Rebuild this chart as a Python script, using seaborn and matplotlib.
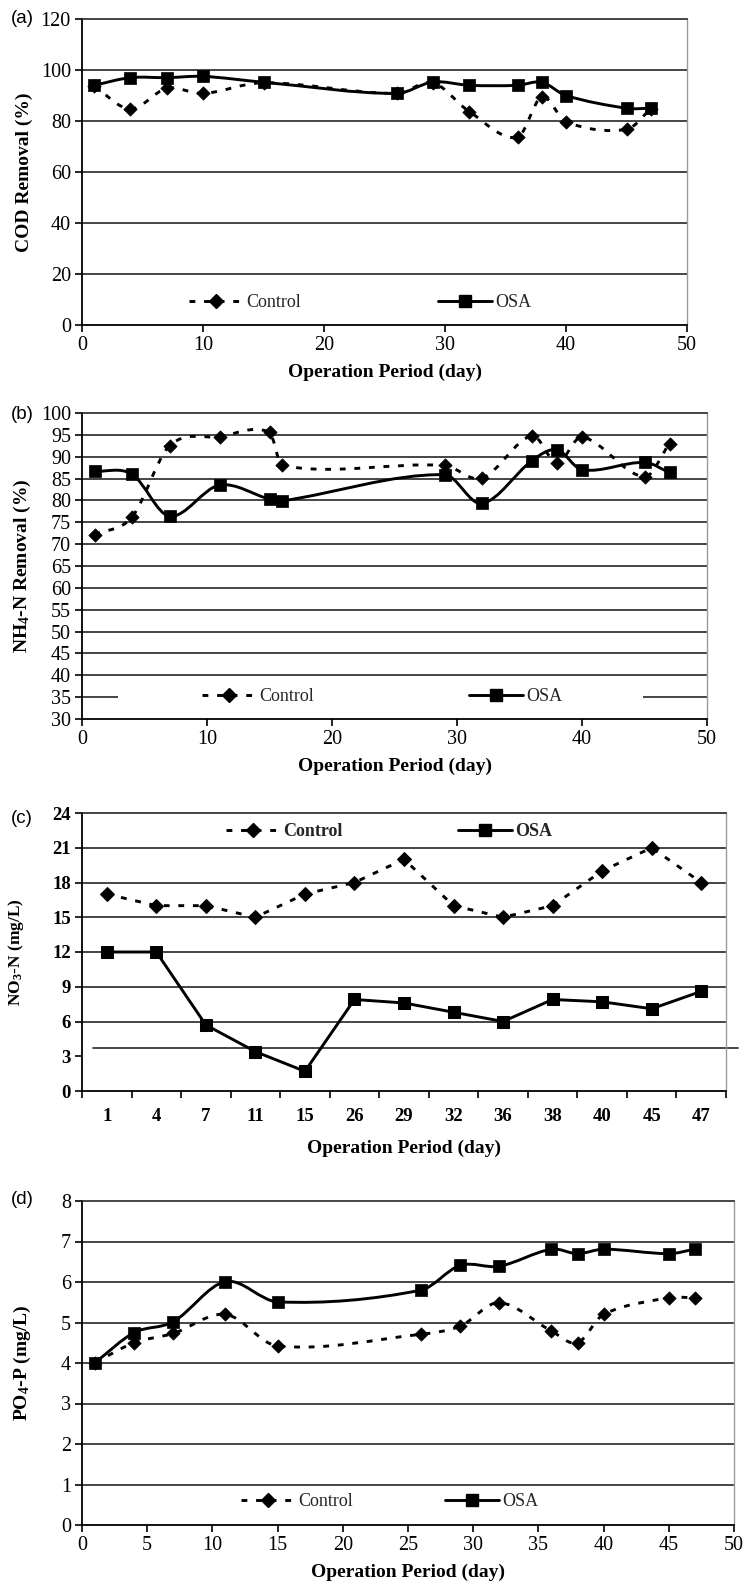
import numpy as np
import matplotlib
matplotlib.use("Agg")
import matplotlib.pyplot as plt
import seaborn as sns
from matplotlib.path import Path
from matplotlib.patches import PathPatch, Rectangle
from matplotlib.lines import Line2D
import matplotlib.transforms as mtransforms

# ---------------- data ----------------
# (a) COD removal (%)
days_a = [1, 4, 7, 10, 15, 26, 29, 32, 36, 38, 40, 45, 47]
cod_control = [93.7, 84.7, 92.8, 90.8, 95.0, 90.8, 95.0, 83.7, 73.6, 89.5, 79.7, 76.7, 84.7]
cod_osa = [94.0, 97.0, 97.0, 97.5, 95.2, 90.8, 95.3, 94.0, 94.0, 95.2, 90.0, 85.0, 85.0]

# (b) NH4-N removal (%)
days_b = [1, 4, 7, 11, 15, 16, 29, 32, 36, 38, 40, 45, 47]
nh4_control = [72.2, 76.2, 92.5, 94.6, 95.6, 88.0, 88.0, 85.1, 94.8, 88.6, 94.5, 85.4, 93.0]
nh4_osa = [86.7, 86.0, 76.4, 83.5, 80.3, 79.9, 85.9, 79.3, 89.1, 91.6, 87.0, 88.7, 86.4]

# (c) NO3-N (mg/L), categorical days
days_c = ["1", "4", "7", "11", "15", "26", "29", "32", "36", "38", "40", "45", "47"]
no3_control = [17, 16, 16, 15, 17, 18, 20, 16, 15, 16, 19, 21, 18]
no3_osa = [12.0, 12.0, 5.7, 3.4, 1.7, 7.9, 7.6, 6.8, 6.0, 7.9, 7.7, 7.1, 8.6]

# (d) PO4-P (mg/L)
days_d = [1, 4, 7, 11, 15, 26, 29, 32, 36, 38, 40, 45, 47]
po4_control = [4.01, 4.50, 4.73, 5.20, 4.42, 4.71, 4.91, 5.49, 4.79, 4.50, 5.20, 5.61, 5.61]
po4_osa = [4.01, 4.75, 5.02, 6.01, 5.51, 5.80, 6.41, 6.39, 6.81, 6.70, 6.81, 6.70, 6.81]

series_names = ["Control", "OSA"]

# ---------------- style ----------------
sns.set_theme(style="white")
plt.rcParams["font.family"] = ["Liberation Serif", "DejaVu Serif"]
plt.rcParams["mathtext.default"] = "regular"

W, H = 747, 1585
fig = plt.figure(figsize=(W / 100, H / 100), dpi=100)
fig.patch.set_facecolor("white")

GRID_C = "#262626"
DASH = (0, (2.0, 3.0))
LW = 2.1
D_MS = 6.8
S_MS = 8.2


def make_axes(l, r, t, b):
    return fig.add_axes([l / W, 1 - b / H, (r - l) / W, (b - t) / H])


def style_axes(ax, yticks, bold=False):
    ax.set_facecolor("white")
    for v in yticks[1:-1]:
        ax.axhline(v, color=GRID_C, lw=1.2, zorder=1)
    ax.spines["left"].set_color("black")
    ax.spines["bottom"].set_color("black")
    ax.spines["left"].set_linewidth(1.3)
    ax.spines["bottom"].set_linewidth(1.3)
    ax.spines["top"].set_color(GRID_C)
    ax.spines["top"].set_linewidth(1.2)
    ax.spines["right"].set_color("#9a9a9a")
    ax.spines["right"].set_linewidth(1.0)
    ax.set_yticks(yticks)
    ax.set_ylim(yticks[0], yticks[-1])
    ax.tick_params(axis="both", which="both", direction="out", length=5,
                   width=1.2, color="black", labelsize=14.5, pad=3,
                   left=True, bottom=True, labelcolor="black")
    if bold:
        for lab in ax.get_yticklabels():
            lab.set_fontweight("bold")


def smooth_path(xs, ys):
    xs = np.asarray(xs, float)
    ys = np.asarray(ys, float)
    n = len(xs)
    m = np.empty(n)
    m[0] = (ys[1] - ys[0]) / (xs[1] - xs[0])
    m[-1] = (ys[-1] - ys[-2]) / (xs[-1] - xs[-2])
    m[1:-1] = (ys[2:] - ys[:-2]) / (xs[2:] - xs[:-2])
    verts = [(xs[0], ys[0])]
    codes = [Path.MOVETO]
    for i in range(n - 1):
        h = xs[i + 1] - xs[i]
        verts += [(xs[i] + h / 3, ys[i] + m[i] * h / 3),
                  (xs[i + 1] - h / 3, ys[i + 1] - m[i + 1] * h / 3),
                  (xs[i + 1], ys[i + 1])]
        codes += [Path.CURVE4] * 3
    return Path(verts, codes)


def draw_smooth(ax, xs, control, osa):
    ax.add_patch(PathPatch(smooth_path(xs, control), fill=False, color="black",
                           lw=LW, linestyle=DASH, capstyle="butt", zorder=3))
    ax.add_patch(PathPatch(smooth_path(xs, osa), fill=False, color="black",
                           lw=LW, linestyle="-", zorder=3))
    sns.scatterplot(x=xs, y=control, marker="D", s=D_MS ** 2, color="black",
                    edgecolor="black", linewidth=0.5, ax=ax, zorder=4, legend=False)
    sns.scatterplot(x=xs, y=osa, marker="s", s=S_MS ** 2, color="black",
                    edgecolor="black", linewidth=0.5, ax=ax, zorder=5, legend=False)


def add_legend(ax, fx, fy, colsp, bold=False):
    h1 = Line2D([], [], color="black", lw=LW, ls=DASH, marker="D", ms=D_MS)
    h2 = Line2D([], [], color="black", lw=LW, ls="-", marker="s", ms=S_MS)
    leg = ax.legend([h1, h2], series_names, loc="center", bbox_to_anchor=(fx, fy),
                    ncol=2, frameon=False, handlelength=3.0, handletextpad=0.15,
                    columnspacing=colsp, fontsize=13, borderaxespad=0)
    if bold:
        for t in leg.get_texts():
            t.set_fontweight("bold")
    leg.set_zorder(6)
    return leg


def labels(ax, ylab, ylx, xly):
    ax.set_ylabel(ylab, fontsize=14, fontweight="bold", color="black")
    ax.yaxis.set_label_coords(ylx, 0.5)
    ax.set_xlabel("Operation Period (day)", fontsize=14, fontweight="bold", color="black")
    ax.xaxis.set_label_coords(0.5, xly)


# ---------------- (a) ----------------
ax = make_axes(82, 687, 19, 325)
style_axes(ax, list(range(0, 121, 20)))
ax.set_xlim(0, 50)
ax.set_xticks(range(0, 51, 10))
draw_smooth(ax, days_a, cod_control, cod_osa)
add_legend(ax, 0.46, 0.072, 7.6)
labels(ax, "COD Removal (%)", -0.081, -0.125)

# ---------------- (b) ----------------
ax = make_axes(82, 707, 413, 719)
style_axes(ax, list(range(30, 101, 5)))
ax.set_xlim(0, 50)
ax.set_xticks(range(0, 51, 10))
draw_smooth(ax, days_b, nh4_control, nh4_osa)
ax.add_patch(Rectangle((0.058, 0.04), 0.84, 0.065, transform=ax.transAxes,
                       facecolor="white", edgecolor="none", zorder=2))
add_legend(ax, 0.48, 0.072, 8.6)
labels(ax, "NH$_4$-N Removal (%)", -0.078, -0.125)

# ---------------- (c) ----------------
ax = make_axes(82, 726, 813, 1091)
yt_c = list(range(0, 25, 3))
style_axes(ax, [0, 24], bold=True)
for v in yt_c[2:-1]:
    ax.axhline(v, color=GRID_C, lw=1.2, zorder=1)
ax.set_yticks(yt_c)
for lab in ax.get_yticklabels():
    lab.set_fontweight("bold")
trans = mtransforms.blended_transform_factory(ax.transAxes, ax.transData)
ax.plot([0.017, 1.019], [3.75, 3.75], transform=trans, clip_on=False,
        color=GRID_C, lw=1.2, zorder=1)
pos = np.arange(len(days_c))
sns.lineplot(x=pos, y=no3_control, ax=ax, color="black", lw=LW, linestyle=DASH,
             marker="D", markersize=D_MS, markeredgecolor="black", zorder=4)
sns.lineplot(x=pos, y=no3_osa, ax=ax, color="black", lw=LW, linestyle="-",
             marker="s", markersize=S_MS, markeredgecolor="black", zorder=5)
ax.set_xlim(-0.5, len(days_c) - 0.5)
ax.set_xticks(pos)
ax.set_xticklabels(days_c)
ax.set_xticks(np.arange(len(days_c) + 1) - 0.5, minor=True)
ax.tick_params(axis="x", which="major", length=0, pad=12, labelsize=13.5)
ax.tick_params(axis="x", which="minor", length=5, width=1.2, direction="out")
for lab in ax.get_xticklabels():
    lab.set_fontweight("bold")
for lab in ax.get_yticklabels():
    lab.set_fontsize(13.5)
add_legend(ax, 0.477, 0.932, 6.4, bold=True)
labels(ax, "NO$_3$-N (mg/L)", -0.087, -0.175)
ax.yaxis.label.set_fontsize(12.5)

# ---------------- (d) ----------------
ax = make_axes(82, 734, 1201, 1525)
style_axes(ax, list(range(0, 9, 1)))
ax.set_xlim(0, 50)
ax.set_xticks(range(0, 51, 5))
draw_smooth(ax, days_d, po4_control, po4_osa)
add_legend(ax, 0.472, 0.071, 5.1)
labels(ax, "PO$_4$-P (mg/L)", -0.075, -0.118)

# ---------------- panel letters ----------------
for lab, yc in [("(a)", 18.5), ("(b)", 415), ("(c)", 819), ("(d)", 1200)]:
    fig.text(22 / W, 1 - yc / H, lab, ha="center", va="center", fontsize=13.5,
             family=["Liberation Sans", "DejaVu Sans"], color="black")

fig.savefig("out.png", dpi=100, facecolor="white")
